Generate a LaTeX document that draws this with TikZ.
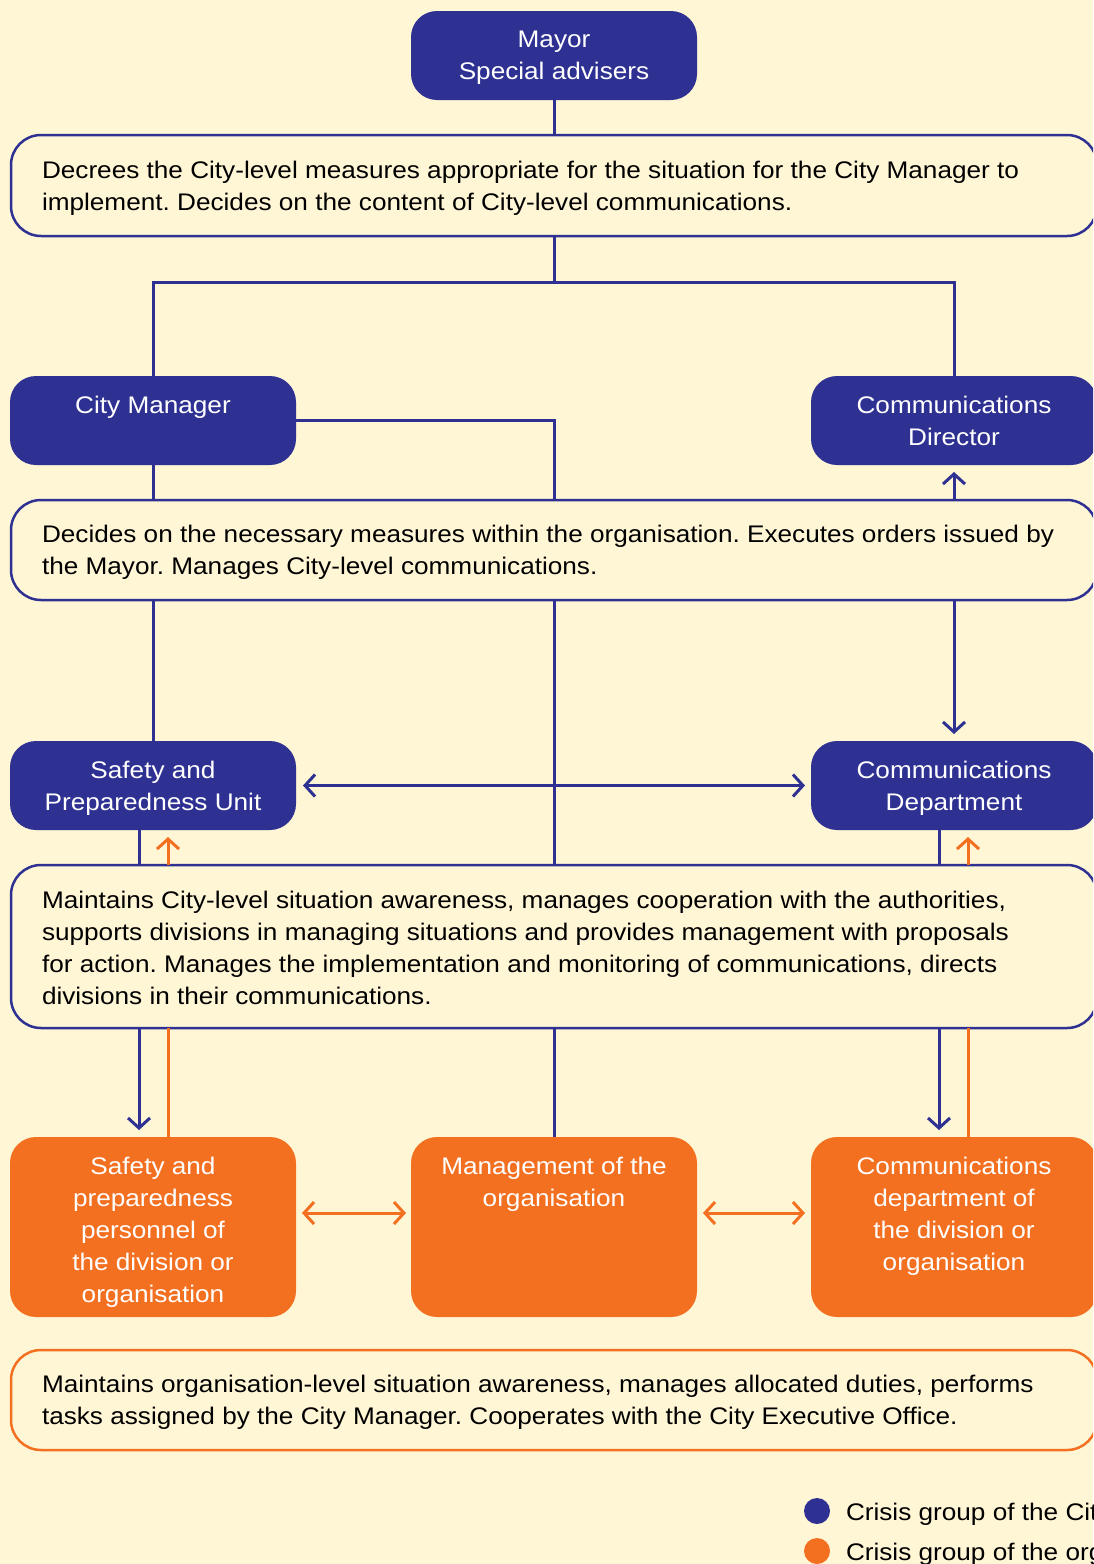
\documentclass[tikz,border=0pt]{standalone}
\usepackage{fontspec}
\setmainfont[FakeStretch=1.09]{Liberation Sans}
\usetikzlibrary{arrows.meta}
\definecolor{cblue}{HTML}{2E3192}
\definecolor{corange}{HTML}{F37021}
\definecolor{ccream}{HTML}{FFF6D6}
\begin{document}
\frenchspacing
\begin{tikzpicture}[x=1pt,y=-1pt,
  every node/.style={inner sep=0pt, outer sep=0pt},
  txt/.style={font=\fontsize{24}{32}\selectfont},
  bluebox/.style={fill=cblue, rounded corners=26pt, minimum width=286pt, minimum height=89pt, anchor=north west},
  orabox/.style={fill=corange, rounded corners=26pt, minimum width=286pt, minimum height=180pt, anchor=north west},
  boxlbl/.style={txt, text=white, align=center, anchor=north},
  descbox/.style={draw=#1, line width=2.5pt, rounded corners=30pt, minimum width=1086pt, anchor=north west},
  desctxt/.style={txt, align=left, anchor=west, text=black},
  conn/.style={draw=cblue, line width=3pt},
  oconn/.style={draw=corange, line width=3pt},
  tipend/.style={-{Straight Barb[length=10pt,width=22pt,line width=3pt]}},
  tipboth/.style={{Straight Barb[length=10pt,width=22pt,line width=3pt]}-{Straight Barb[length=10pt,width=22pt,line width=3pt]}},
]
\useasboundingbox (0,0) rectangle (1093,1564);
\clip (0,0) rectangle (1093,1564);
\fill[ccream] (0,0) rectangle (1093,1564);

% top level
\node[bluebox] (mayor) at (411,11) {};
\node[boxlbl] (mayorl) at ([yshift=-20pt]mayor.north) {Mayor\\Special advisers};

\node[descbox=cblue, minimum height=101pt] (d1) at (11,135) {};
\node[desctxt] (d1t) at ([xshift=31pt,yshift=-2.5pt]d1.west) {Decrees the City-level measures appropriate for the situation for the City Manager to\\implement. Decides on the content of City-level communications.};

\node[bluebox] (cm) at (10,376) {};
\node[boxlbl] (cml) at ([yshift=-20pt]cm.north) {City Manager};
\node[bluebox] (cd) at (811,376) {};
\node[boxlbl] (cdl) at ([yshift=-20pt]cd.north) {Communications\\Director};

\node[descbox=cblue, minimum height=100pt] (d2) at (11,500) {};
\node[desctxt] (d2t) at ([xshift=31pt,yshift=-2.5pt]d2.west) {Decides on the necessary measures within the organisation. Executes orders issued by\\the Mayor. Manages City-level communications.};

\node[bluebox] (spu) at (10,741) {};
\node[boxlbl] (spul) at ([yshift=-20pt]spu.north) {Safety and\\Preparedness Unit};
\node[bluebox] (cdp) at (811,741) {};
\node[boxlbl] (cdpl) at ([yshift=-20pt]cdp.north) {Communications\\Department};

\node[descbox=cblue, minimum height=163pt] (d3) at (11,865) {};
\node[desctxt] (d3t) at ([xshift=31pt,yshift=-1.5pt]d3.west) {Maintains City-level situation awareness, manages cooperation with the authorities,\\supports divisions in managing situations and provides management with proposals\\for action. Manages the implementation and monitoring of communications, directs\\divisions in their communications.};

\node[orabox] (oa) at (10,1137) {};
\node[boxlbl] (oal) at ([yshift=-20pt]oa.north) {Safety and\\preparedness\\personnel of\\the division or\\organisation};
\node[orabox] (ob) at (411,1137) {};
\node[boxlbl] (obl) at ([yshift=-20pt]ob.north) {Management of the\\organisation};
\node[orabox] (oc) at (811,1137) {};
\node[boxlbl] (ocl) at ([yshift=-20pt]oc.north) {Communications\\department of\\the division or\\organisation};

\node[descbox=corange, minimum height=100pt] (d4) at (11,1350) {};
\node[desctxt] (d4t) at ([xshift=31pt,yshift=-2.5pt]d4.west) {Maintains organisation-level situation awareness, manages allocated duties, performs\\tasks assigned by the City Manager. Cooperates with the City Executive Office.};

% connectors
\coordinate (j1) at (554,282);
\draw[conn] (mayor.south) -- (mayor.south |- d1.north);
\draw[conn] (mayor.south |- d1.south) -- (j1);
\draw[conn] (cm.north) |- (j1) -| (cd.north);
\draw[conn] (cm.east) -| (mayor.south |- d2.north);
\draw[conn] (cm.south) -- (cm.south |- d2.north);
\draw[conn, tipend, shorten >=7pt] (cd.south |- d2.north) -- (cd.south);

\draw[conn] (cm.south |- d2.south) -- (spu.north);
\draw[conn] (mayor.south |- d2.south) -- (mayor.south |- d3.north);
\draw[conn, tipend, shorten >=7pt] (cd.south |- d2.south) -- (cdp.north);
\draw[conn, tipboth, shorten <=7pt, shorten >=6pt] (spu.east) -- (cdp.west);

\draw[conn] ([xshift=-14pt]spu.south) -- ([xshift=-14pt]spu.south |- d3.north);
\draw[oconn, tipend, shorten >=7pt] ([xshift=15pt]spu.south |- d3.north) -- ([xshift=15pt]spu.south);
\draw[conn] ([xshift=-15pt]cdp.south) -- ([xshift=-15pt]cdp.south |- d3.north);
\draw[oconn, tipend, shorten >=7pt] ([xshift=14pt]cdp.south |- d3.north) -- ([xshift=14pt]cdp.south);

\draw[conn, tipend, shorten >=7pt] ([xshift=-14pt]oa.north |- d3.south) -- ([xshift=-14pt]oa.north);
\draw[oconn] ([xshift=15pt]oa.north |- d3.south) -- ([xshift=15pt]oa.north);
\draw[conn] (ob.north |- d3.south) -- (ob.north);
\draw[conn, tipend, shorten >=7pt] ([xshift=-15pt]oc.north |- d3.south) -- ([xshift=-15pt]oc.north);
\draw[oconn] ([xshift=14pt]oc.north |- d3.south) -- ([xshift=14pt]oc.north);

\draw[oconn, tipboth, shorten <=6pt, shorten >=5pt] ([yshift=14pt]oa.east) -- ([yshift=14pt]ob.west);
\draw[oconn, tipboth, shorten <=6pt, shorten >=6pt] ([yshift=14pt]ob.east) -- ([yshift=14pt]oc.west);

% legend
\node[circle, fill=cblue, minimum size=26pt] (lg1) at (817,1511) {};
\node[txt, anchor=base west] (lt1) at (846,1520) {Crisis group of the City};
\node[circle, fill=corange, minimum size=26pt] (lg2) at (817,1551) {};
\node[txt, anchor=base west] (lt2) at (846,1560) {Crisis group of the organisation};
\end{tikzpicture}
\end{document}
